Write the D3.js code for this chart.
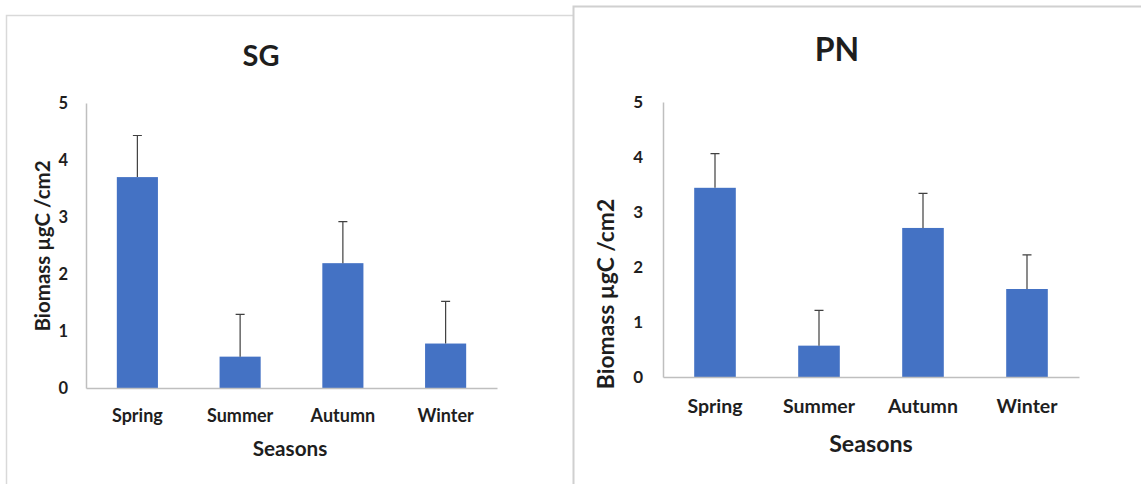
<!DOCTYPE html>
<html><head><meta charset="utf-8">
<script src="https://cdn.jsdelivr.net/npm/d3@7"></script>
<style>
html,body{margin:0;padding:0;background:#fff;}
svg{display:block;}
text{font-family:Lato,"Open Sans",sans-serif;font-weight:700;fill:#1e1e1e;}
</style></head>
<body>
<svg id="c" width="1141" height="484"></svg>
<script>
const categories = ["Spring", "Summer", "Autumn", "Winter"];
const yTicks = [0, 1, 2, 3, 4, 5];
const sgValues = [3.70, 0.55, 2.19, 0.78];
const sgErrors = [0.73, 0.74, 0.73, 0.74];
const pnValues = [3.44, 0.57, 2.71, 1.60];
const pnErrors = [0.62, 0.64, 0.63, 0.62];
const titles = ["SG", "PN"];
const xTitle = "Seasons";
const yTitle = "Biomass µgC /cm2";

const svg = d3.select("#c");

// panel frames
svg.append("path").attr("d", "M6.5,484 V15.5 H573").attr("fill", "none").attr("stroke", "#d9d9d9").attr("stroke-width", 1.5);
svg.append("path").attr("d", "M573.5,484 V6.5 H1141").attr("fill", "none").attr("stroke", "#d0d0d0").attr("stroke-width", 2);

const panels = [
  {title: titles[0], values: sgValues, errors: sgErrors, x0: 86, x1: 497, yTop: 103, yBot: 388,
   titleX: 261, titleY: 66, titleSize: 29, tickGap: 18, tickSize: 16.5, catY: 421.5, catSize: 18,
   xtX: 290, xtY: 456, xtSize: 20.7, ytX: 43, ytY: 246, ytSize: 20.5},
  {title: titles[1], values: pnValues, errors: pnErrors, x0: 663, x1: 1079, yTop: 102, yBot: 377,
   titleX: 837, titleY: 61, titleSize: 32, tickGap: 20, tickSize: 17, catY: 412.5, catSize: 19.5,
   xtX: 871, xtY: 452, xtSize: 23.2, ytX: 606, ytY: 294, ytSize: 22.8}
];

panels.forEach(p => {
  const g = svg.append("g");
  const x = d3.scaleBand().domain(categories).range([p.x0, p.x1]).paddingInner(0.6).paddingOuter(0.3);
  const y = d3.scaleLinear().domain([0, 5]).range([p.yBot, p.yTop]);

  // bars
  g.selectAll("rect.bar").data(categories).join("rect")
    .attr("x", d => x(d)).attr("width", x.bandwidth())
    .attr("y", (d, i) => y(p.values[i])).attr("height", (d, i) => y(0) - y(p.values[i]))
    .attr("fill", "#4472C4");

  // error bars
  const cw = 4.5;
  g.selectAll("path.err").data(categories).join("path")
    .attr("d", (d, i) => {
      const cx = x(d) + x.bandwidth() / 2;
      const t = y(p.values[i] + p.errors[i]);
      return `M${cx},${y(p.values[i])} V${t} M${cx - cw},${t} H${cx + cw}`;
    })
    .attr("fill", "none").attr("stroke", "#404040").attr("stroke-width", 1.2);

  // axes
  const yAxis = d3.axisLeft(y).tickValues(yTicks).tickSize(0).tickPadding(p.tickGap).tickFormat(d3.format("d"));
  const ya = g.append("g").attr("transform", `translate(${p.x0},0)`).call(yAxis);
  ya.select(".domain").attr("stroke", "#bfbfbf").attr("stroke-width", 1.5);
  ya.selectAll("text").style("font-size", p.tickSize + "px").attr("fill", "#1e1e1e");

  const xAxis = d3.axisBottom(x).tickSize(0).tickPadding(0);
  const xa = g.append("g").attr("transform", `translate(0,${p.yBot})`).call(xAxis);
  xa.select(".domain").attr("stroke", "#bfbfbf").attr("stroke-width", 1.5);
  xa.selectAll("text").attr("dy", null).attr("y", p.catY - p.yBot)
    .style("font-size", p.catSize + "px").attr("fill", "#1e1e1e");

  // titles
  g.append("text").attr("x", p.titleX).attr("y", p.titleY).attr("text-anchor", "middle")
    .style("font-size", p.titleSize + "px").text(p.title);
  g.append("text").attr("x", p.xtX).attr("y", p.xtY).attr("text-anchor", "middle")
    .style("font-size", p.xtSize + "px").text(xTitle);
  g.append("text").attr("transform", `translate(${p.ytX},${p.ytY}) rotate(-90)`)
    .attr("text-anchor", "middle").attr("dy", "0.35em")
    .style("font-size", p.ytSize + "px").text(yTitle);
});
</script>
</body></html>
